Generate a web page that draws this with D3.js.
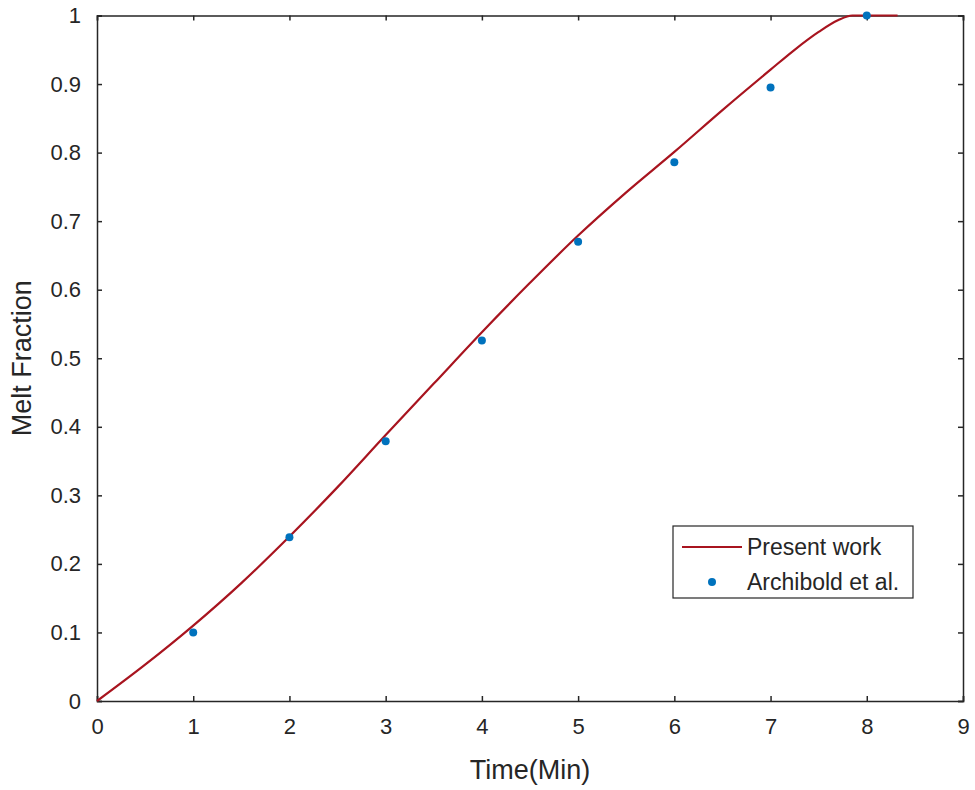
<html>
<head>
  <title>Melt fraction</title>
  <script src="https://d3js.org/d3.v7.min.js"></script>
  <style>
    body { margin: 0; background: #fff; }
    text { font-family: "Liberation Sans", Arial, sans-serif; fill: #262626; }
  </style>
</head>
<body>
<script>
  // present work (simulation curve)
  var curveTime = [0, 0.5, 1, 1.5, 2, 2.5, 3, 3.5, 4, 4.5, 5, 5.5, 6, 6.5, 7, 7.25, 7.5, 7.7, 7.85, 8.0, 8.32];
  var curveFrac = [0, 0.053, 0.110, 0.172, 0.240, 0.312, 0.388, 0.463, 0.538, 0.610, 0.679, 0.742, 0.801, 0.862, 0.921, 0.950, 0.976, 0.993, 1.0, 1.0, 1.0];
  // Archibold et al. (experiment)
  var expTime = [1, 2, 3, 4, 5, 6, 7, 8];
  var expFrac = [0.10, 0.239, 0.379, 0.526, 0.670, 0.786, 0.895, 1.0];
  var xTicks = [0, 1, 2, 3, 4, 5, 6, 7, 8, 9];
  var yTicks = [0, 0.1, 0.2, 0.3, 0.4, 0.5, 0.6, 0.7, 0.8, 0.9, 1];
  var legendNames = ['Present work', 'Archibold et al.'];

  var width = 975, height = 790;
  var mLeft = 97, mRight = 963, mTop = 15.5, mBottom = 701;
  var lineColor = '#A8141F', dotColor = '#0072BD', axisColor = '#262626';

  var svg = d3.select('body').append('svg')
    .attr('width', width)
    .attr('height', height);

  var x = d3.scaleLinear().domain([0, 9]).range([mLeft, mRight]);
  var y = d3.scaleLinear().domain([0, 1]).range([mBottom, mTop]);

  // ticks all round, pointing inwards
  var tl = 5;
  var fmt = function(d) { return d3.format('~g')(d); };
  svg.append('g').attr('class', 'ax').attr('transform', 'translate(0,' + mBottom + ')')
    .call(d3.axisBottom(x).tickValues(xTicks).tickSize(-tl).tickPadding(17).tickFormat(fmt));
  svg.append('g').attr('class', 'ax').attr('transform', 'translate(0,' + mTop + ')')
    .call(d3.axisTop(x).tickValues(xTicks).tickSize(-tl).tickFormat(''));
  svg.append('g').attr('class', 'ax').attr('transform', 'translate(' + mLeft + ',0)')
    .call(d3.axisLeft(y).tickValues(yTicks).tickSize(-tl).tickPadding(16).tickFormat(fmt));
  svg.append('g').attr('class', 'ax').attr('transform', 'translate(' + mRight + ',0)')
    .call(d3.axisRight(y).tickValues(yTicks).tickSize(-tl).tickFormat(''));

  svg.selectAll('.ax').attr('font-size', null).attr('font-family', null);
  svg.selectAll('.ax path').attr('stroke', axisColor).attr('stroke-width', 1.5);
  svg.selectAll('.ax line').attr('stroke', axisColor).attr('stroke-width', 1.5);
  svg.selectAll('.ax text')
    .style('font-size', '22px')
    .attr('fill', axisColor);

  // curve
  var pts = curveTime.map(function(t, i) { return [t, curveFrac[i]]; });
  svg.append('path')
    .datum(pts)
    .attr('fill', 'none')
    .attr('stroke', lineColor)
    .attr('stroke-width', 2.2)
    .attr('d', d3.line().x(function(d) { return x(d[0]); }).y(function(d) { return y(d[1]); }).curve(d3.curveMonotoneX));

  // experimental points
  svg.selectAll('circle.exp')
    .data(expTime.map(function(t, i) { return [t, expFrac[i]]; }))
    .enter().append('circle')
    .attr('class', 'exp')
    .attr('cx', function(d) { return x(d[0]); })
    .attr('cy', function(d) { return y(d[1]); })
    .attr('r', 4)
    .attr('fill', dotColor);

  // axis labels
  svg.append('text')
    .attr('x', (mLeft + mRight) / 2)
    .attr('y', 779)
    .attr('text-anchor', 'middle')
    .style('font-size', '27px')
    .text('Time(Min)');
  svg.append('text')
    .attr('transform', 'translate(31,' + ((mTop + mBottom) / 2) + ') rotate(-90)')
    .attr('text-anchor', 'middle')
    .style('font-size', '27px')
    .text('Melt Fraction');

  // legend
  var lg = svg.append('g');
  lg.append('rect')
    .attr('x', 673).attr('y', 526).attr('width', 240).attr('height', 72)
    .attr('fill', '#fff').attr('stroke', axisColor).attr('stroke-width', 1.2);
  lg.append('line')
    .attr('x1', 682).attr('x2', 742).attr('y1', 547).attr('y2', 547)
    .attr('stroke', lineColor).attr('stroke-width', 2.2);
  lg.append('circle')
    .attr('cx', 712).attr('cy', 582).attr('r', 4).attr('fill', dotColor);
  lg.selectAll('text.lg')
    .data(legendNames)
    .enter().append('text')
    .attr('class', 'lg')
    .attr('x', 747)
    .attr('y', function(d, i) { return 555 + i * 35; })
    .style('font-size', '23px')
    .text(function(d) { return d; });
</script>
</body>
</html>
